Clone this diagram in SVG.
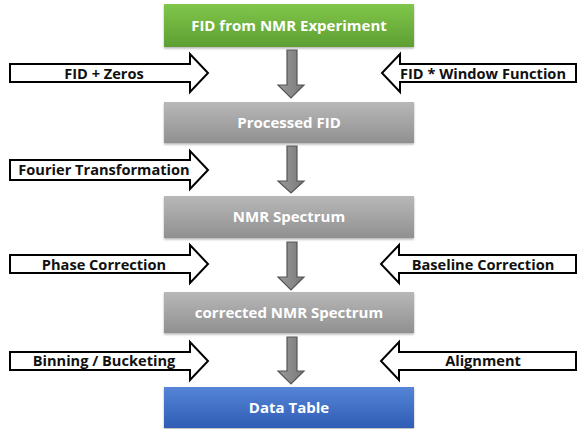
<svg xmlns="http://www.w3.org/2000/svg" width="578" height="429" viewBox="0 0 578 429">
<defs>
<linearGradient id="gGreen" x1="0" y1="0" x2="0" y2="1"><stop offset="0" stop-color="#80c64a"/><stop offset="1" stop-color="#5e9f33"/></linearGradient>
<linearGradient id="gGray" x1="0" y1="0" x2="0" y2="1"><stop offset="0" stop-color="#b8b8b8"/><stop offset="1" stop-color="#909090"/></linearGradient>
<linearGradient id="gBlue" x1="0" y1="0" x2="0" y2="1"><stop offset="0" stop-color="#5584d6"/><stop offset="1" stop-color="#2f5db5"/></linearGradient>
<linearGradient id="gArrow" x1="0" y1="0" x2="1" y2="0"><stop offset="0" stop-color="#9a9a9a"/><stop offset="0.5" stop-color="#8a8a8a"/><stop offset="1" stop-color="#777"/></linearGradient>
<filter id="sh" x="-5%" y="-10%" width="110%" height="130%"><feDropShadow dx="0" dy="1.5" stdDeviation="1.2" flood-color="#000" flood-opacity="0.3"/></filter>
</defs>
<style>
.box{filter:url(#sh)}
.bt{font-family:"Open Sans",Lato,sans-serif;font-weight:bold;font-size:15px;fill:#fff;text-anchor:middle}
.blk{fill:#fff;stroke:#000;stroke-width:2;stroke-linejoin:miter}
.lt{font-family:"Open Sans",Lato,sans-serif;font-weight:bold;font-size:14.6px;fill:#111;text-anchor:middle}
.down{fill:url(#gArrow);stroke:#555;stroke-width:1.2}
</style>
<g id="node-fid">
<rect class="box" x="164" y="4" width="250" height="43" fill="url(#gGreen)"/>
<text class="bt" x="289" y="31">FID from NMR Experiment</text>
</g>
<g id="node-processed">
<rect class="box" x="164" y="102" width="250" height="41" fill="url(#gGray)"/>
<text class="bt" x="289" y="128">Processed FID</text>
</g>
<g id="node-spectrum">
<rect class="box" x="164" y="196" width="250" height="42" fill="url(#gGray)"/>
<text class="bt" x="289" y="222">NMR Spectrum</text>
</g>
<g id="node-corrected">
<rect class="box" x="164" y="292" width="250" height="41" fill="url(#gGray)"/>
<text class="bt" x="289" y="318">corrected NMR Spectrum</text>
</g>
<g id="node-table">
<rect class="box" x="164" y="387" width="250" height="41" fill="url(#gBlue)"/>
<text class="bt" x="289" y="413">Data Table</text>
</g>
<g id="connectors">
<path class="down" d="M287,50 H297 V85 H304 L291,98 L278,85 H287 Z"/>
<path class="down" d="M287,146 H297 V181 H304 L291,193 L278,181 H287 Z"/>
<path class="down" d="M287,242 H297 V277 H304 L291,290 L278,277 H287 Z"/>
<path class="down" d="M287,337 H297 V371 H304 L291,384 L278,371 H287 Z"/>
</g>
<g id="in-zeros">
<path class="blk" d="M10,64 H190 V54 L208,73 L190,92 V82 H10 Z"/>
<text class="lt" x="104" y="79">FID + Zeros</text>
</g>
<g id="in-window">
<path class="blk" d="M576,64 H400 V54 L382,73 L400,92 V82 H576 Z"/>
<text class="lt" x="483" y="79">FID * Window Function</text>
</g>
<g id="in-fourier">
<path class="blk" d="M10,160 H190 V151 L208,170 L190,189 V180 H10 Z"/>
<text class="lt" x="104" y="175">Fourier Transformation</text>
</g>
<g id="in-phase">
<path class="blk" d="M10,255 H190 V245 L208,264 L190,283 V273 H10 Z"/>
<text class="lt" x="104" y="270">Phase Correction</text>
</g>
<g id="in-baseline">
<path class="blk" d="M576,255 H399 V245 L381,264 L399,283 V273 H576 Z"/>
<text class="lt" x="483" y="270">Baseline Correction</text>
</g>
<g id="in-binning">
<path class="blk" d="M10,352 H190 V342 L208,361 L190,380 V370 H10 Z"/>
<text class="lt" x="104" y="366">Binning / Bucketing</text>
</g>
<g id="in-alignment">
<path class="blk" d="M576,352 H399 V342 L381,361 L399,380 V370 H576 Z"/>
<text class="lt" x="483" y="366">Alignment</text>
</g>
</svg>
